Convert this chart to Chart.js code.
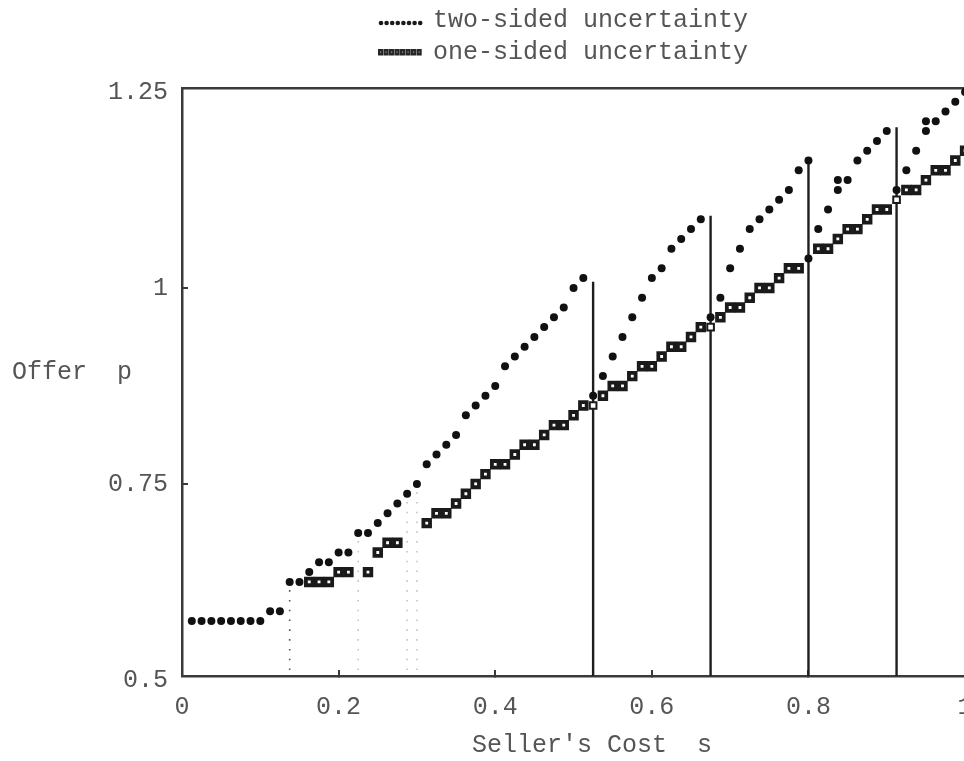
<!DOCTYPE html>
<html><head><meta charset="utf-8">
<script src="https://cdn.jsdelivr.net/npm/chart.js@4/dist/chart.umd.min.js"></script>
<style>
html,body{margin:0;padding:0;background:#fff;overflow:hidden;}
#wrap{width:1000px;height:761px;}
</style></head><body>
<div id="wrap"><canvas id="c" width="1000" height="761"></canvas></div>
<script>
// ---- data ----
const twoS = [0.0125,0.025,0.0375,0.05,0.0625,0.075,0.0875,0.1,0.1125,0.125,
  0.1375,0.15,0.1625,0.175,0.1875,0.2,0.2125,0.225,0.2375,0.25,
  0.2625,0.275,0.2875,0.3,0.3125,0.325,0.3375,0.35,0.3625,0.375,
  0.3875,0.4,0.4125,0.425,0.4375,0.45,0.4625,0.475,0.4875,0.5,
  0.5125,0.525,0.5375,0.55,0.5625,0.575,0.5875,0.6,0.6125,0.625,
  0.6375,0.65,0.6625,0.675,0.6875,0.7,0.7125,0.725,0.7375,0.75,
  0.7625,0.775,0.7875,0.8,0.8,0.8125,0.825,0.8375,0.8375,0.85,
  0.8625,0.875,0.8875,0.9,0.9125,0.925,0.9375,0.95,0.95,0.9625,
  0.975,0.9875,1.0];
const twoP = [0.575,0.575,0.575,0.575,0.575,0.575,0.575,0.575,0.5875,0.5875,
  0.625,0.625,0.6375,0.65,0.65,0.6625,0.6625,0.6875,0.6875,0.7,
  0.7125,0.725,0.7375,0.75,0.775,0.7875,0.8,0.8125,0.8375,0.85,
  0.8625,0.875,0.9,0.9125,0.925,0.9375,0.95,0.9625,0.975,1.0,
  1.0125,0.8625,0.8875,0.9125,0.9375,0.9625,0.9875,1.0125,1.025,1.05,
  1.0625,1.075,1.0875,0.9625,0.9875,1.025,1.05,1.075,1.0875,1.1,
  1.1125,1.125,1.15,1.1625,1.0375,1.075,1.1,1.125,1.1375,1.1375,
  1.1625,1.175,1.1875,1.2,1.125,1.15,1.175,1.2,1.2125,1.2125,
  1.225,1.2375,1.25];
const oneS = [0.1625,0.175,0.1875,0.2,0.2125,0.2375,0.25,0.2625,0.275,
  0.3125,0.325,0.3375,0.35,0.3625,0.375,0.3875,0.4,0.4125,0.425,
  0.4375,0.45,0.4625,0.475,0.4875,0.5,0.5125,0.525,0.5375,0.55,
  0.5625,0.575,0.5875,0.6,0.6125,0.625,0.6375,0.65,0.6625,0.675,
  0.6875,0.7,0.7125,0.725,0.7375,0.75,0.7625,0.775,0.7875,
  0.8125,0.825,0.8375,0.85,0.8625,0.875,0.8875,0.9,0.9125,0.925,
  0.9375,0.95,0.9625,0.975,0.9875,1.0];
const oneP = [0.625,0.625,0.625,0.6375,0.6375,0.6375,0.6625,0.675,0.675,
  0.7,0.7125,0.7125,0.725,0.7375,0.75,0.7625,0.775,0.775,0.7875,
  0.8,0.8,0.8125,0.825,0.825,0.8375,0.85,0.85,0.8625,0.875,
  0.875,0.8875,0.9,0.9,0.9125,0.925,0.925,0.9375,0.95,0.95,
  0.9625,0.975,0.975,0.9875,1.0,1.0,1.0125,1.025,1.025,
  1.05,1.05,1.0625,1.075,1.075,1.0875,1.1,1.1,1.1125,1.125,
  1.125,1.1375,1.15,1.15,1.1625,1.175];
const jumpS = [0.525, 0.675, 0.8, 0.9125];
const jumpTop = [1.008, 1.092, 1.1625, 1.205];
const guideS = [0.1375, 0.225, 0.2875, 0.3];
const guideTop = [0.625, 0.6875, 0.7375, 0.75];
const xTickValues = [0, 0.2, 0.4, 0.6, 0.8, 1];
const xTickLabels = ['0', '0.2', '0.4', '0.6', '0.8', '1'];
const yTickValues = [0.5, 0.75, 1, 1.25];
const yTickLabels = ['0.5', '0.75', '1', '1.25'];
const legendLabels = ['two-sided uncertainty', 'one-sided uncertainty'];
const xTitle = "Seller's Cost  s";
const yTitle = "Offer  p";

// ---- styles ----
const FONT_FAMILY = "'Liberation Mono', 'Courier New', monospace";
const FONT_SIZE = 25;
const TEXT_COLOR = '#555555';
const AXIS_COLOR = '#3a3a3a';
const tickMarkValuesX = [0.2, 0.4, 0.6, 0.8];
const tickMarkValuesY = [0.75, 1];
const guideColors = ['#555555', '#c4c4c4', '#c4c4c4', '#c4c4c4'];

const datasets = [];
datasets.push({
  label: legendLabels[0],
  data: twoS.map((s, i) => ({x: s, y: twoP[i]})),
  pointStyle: 'circle', pointRadius: 4, pointBackgroundColor: '#111', pointBorderWidth: 0,
  showLine: false, order: 0
});
datasets.push({
  label: legendLabels[1],
  data: oneS.map((s, i) => ({x: s, y: oneP[i]})),
  pointStyle: 'rect', pointRadius: 4.7, pointBackgroundColor: '#fff', pointBorderColor: '#1a1a1a',
  pointBorderWidth: ctx => (ctx.raw && jumpS.includes(ctx.raw.x)) ? 2.0 : 3.8,
  showLine: false, order: 1
});
jumpS.forEach((s, k) => datasets.push({
  data: [{x: s, y: 0.5}, {x: s, y: jumpTop[k]}],
  showLine: true, borderColor: '#1e1e1e', borderWidth: 2.4, pointRadius: 0, order: 2
}));
guideS.forEach((s, k) => datasets.push({
  data: [{x: s, y: 0.5}, {x: s, y: guideTop[k]}],
  showLine: true, borderColor: guideColors[k], borderWidth: 1.6, borderDash: [1.6, 8.2],
  pointRadius: 0, order: 3
}));

const textPlugin = {
  id: 'texts',
  afterDraw(chart) {
    const ctx = chart.ctx;
    ctx.save();
    ctx.font = FONT_SIZE + 'px ' + FONT_FAMILY;
    ctx.fillStyle = TEXT_COLOR;
    ctx.textBaseline = 'middle';
    ctx.textAlign = 'left';
    ctx.fillText(yTitle, 12, 372);
    ctx.fillText(xTitle, 472, 745);
    ctx.fillText(legendLabels[0], 433, 20);
    ctx.fillText(legendLabels[1], 433, 52);
    // legend markers
    ctx.fillStyle = '#1a1a1a';
    for (let k = 0; k < 8; k++) {
      ctx.beginPath();
      ctx.arc(381 + k * 5.6, 23, 2.3, 0, Math.PI * 2);
      ctx.fill();
    }
    for (let k = 0; k < 8; k++) {
      ctx.fillStyle = '#262626';
      ctx.fillRect(378 + k * 5.5, 49, 5.2, 6.5);
      ctx.fillStyle = '#9a9a9a';
      ctx.fillRect(380 + k * 5.5, 51.5, 1.2, 1.2);
    }
    ctx.restore();
  }
};

new Chart(document.getElementById('c'), {
  type: 'scatter',
  data: {datasets},
  options: {
    responsive: false,
    animation: false,
    devicePixelRatio: 1,
    events: [],
    layout: {padding: {top: 88, left: 0, right: 31, bottom: 0}},
    plugins: {legend: {display: false}, tooltip: {enabled: false}, title: {display: false}},
    scales: {
      x: {
        type: 'linear', position: 'bottom', min: 0, max: 1.005,
        afterBuildTicks: sc => { sc.ticks = xTickValues.map(v => ({value: v})); },
        afterFit: sc => { sc.height = 85; },
        ticks: {
          callback: (v, i) => xTickLabels[i],
          font: {family: FONT_FAMILY, size: FONT_SIZE}, color: TEXT_COLOR,
          padding: 22, maxRotation: 0, autoSkip: false
        },
        grid: {
          drawOnChartArea: false, drawTicks: true, tickLength: -6, lineWidth: 2,
          color: ctx => (ctx.tick && tickMarkValuesX.includes(ctx.tick.value)) ? AXIS_COLOR : 'rgba(0,0,0,0)'
        },
        border: {display: true, color: AXIS_COLOR, width: 2.5}
      },
      xTop: {
        type: 'linear', position: 'top', min: 0, max: 1.005,
        afterFit: sc => { sc.height = 0; },
        ticks: {display: false},
        grid: {display: false},
        border: {display: true, color: AXIS_COLOR, width: 2.5}
      },
      y: {
        type: 'linear', position: 'left', min: 0.505, max: 1.255,
        afterBuildTicks: sc => { sc.ticks = yTickValues.map(v => ({value: v})); },
        afterFit: sc => { sc.width = 182; },
        ticks: {
          callback: (v, i) => yTickLabels[i],
          font: {family: FONT_FAMILY, size: FONT_SIZE}, color: TEXT_COLOR,
          padding: 20, autoSkip: false
        },
        grid: {
          drawOnChartArea: false, drawTicks: true, tickLength: -6, lineWidth: 2,
          color: ctx => (ctx.tick && tickMarkValuesY.includes(ctx.tick.value)) ? AXIS_COLOR : 'rgba(0,0,0,0)'
        },
        border: {display: true, color: AXIS_COLOR, width: 2.5}
      }
    }
  },
  plugins: [textPlugin]
});
</script>
</body></html>
